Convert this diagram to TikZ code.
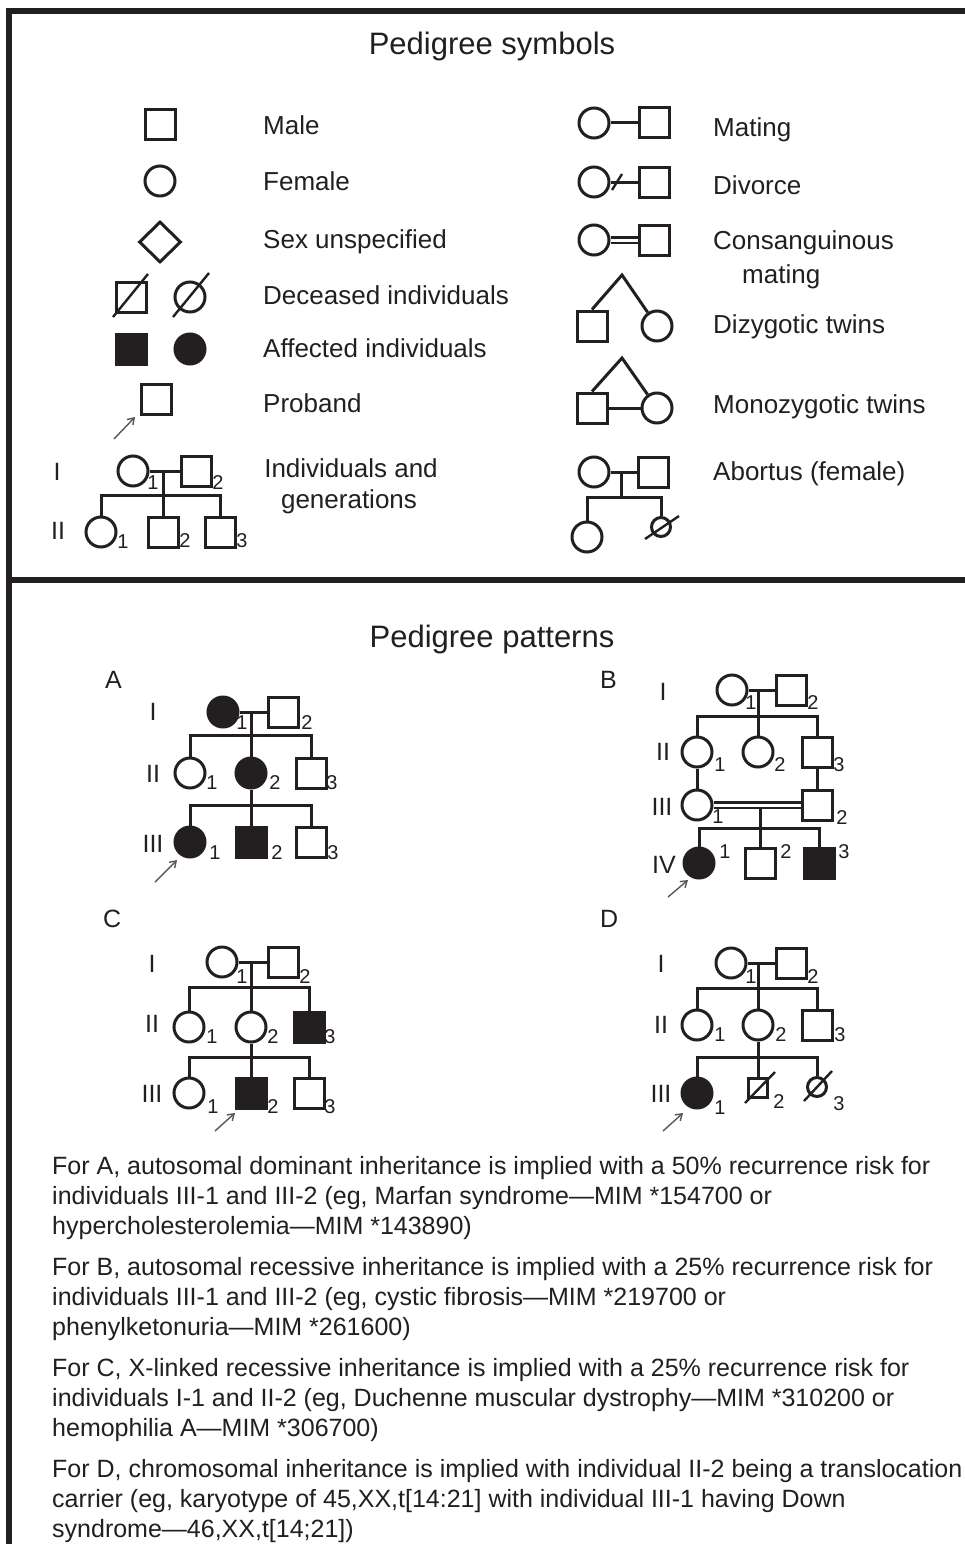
\documentclass[tikz,border=0pt]{standalone}
\usepackage{fontspec}
\setmainfont{Liberation Sans}
\usetikzlibrary{shapes.geometric,arrows.meta,calc}
\definecolor{ink}{HTML}{231F20}

\begin{document}
\begin{tikzpicture}[x=1pt,y=-1pt,
  every node/.style={inner sep=0pt},
  sym/.style={draw=ink, line width=3pt},
  male/.style={sym, rectangle, minimum size=30pt},
  female/.style={sym, circle, minimum size=30pt},
  aff/.style={fill=ink},
  smallsym/.style={minimum size=19pt},
  link/.style={draw=ink, line width=3pt},
  slash/.style={draw=ink, line width=2.4pt},
  consang/.style={draw=ink, line width=2.5pt, double=white, double distance=3pt},
  num/.style={font=\fontsize{20}{20}\selectfont, text=ink},
  gen/.style={font=\fontsize{25}{25}\selectfont, text=ink, anchor=base},
  lbl/.style={font=\fontsize{26}{30}\selectfont, text=ink, anchor=base west},
  ttl/.style={font=\fontsize{31}{36}\selectfont, text=ink, anchor=base},
  note/.style={font=\fontsize{25}{30}\selectfont, text=ink, anchor=base west},
  proband/.style={draw=ink!75, line width=1.4pt, -{Straight Barb[length=6pt,width=8pt]}},
  frame/.style={draw=ink, line width=6pt, line join=miter},
]
\useasboundingbox (0,0) rectangle (965,1544);
\fill[white] (0,0) rectangle (965,1544);

% ---------- frame ----------
\draw[frame] (9,1550) -- (9,11) -- (970,11);
\draw[frame] (9,580) -- (970,580);

% ---------- titles ----------
\node[ttl] (ttlSym) at (492,55) {Pedigree symbols};
\node[ttl] (ttlPat) at (492,647) {Pedigree patterns};

% ---------- symbol key, left column ----------
\node[male] (male) at (160,125) {};
\node[lbl] (maleT) at (263,135) {Male};

\node[female] (fem) at (160,181) {};
\node[lbl] (femT) at (263,190) {Female};

\node[sym, diamond, minimum width=42pt, minimum height=41pt] (unk) at (160,242) {};
\node[lbl] (unkT) at (263,248) {Sex unspecified};

\node[male] (decM) at (131,297) {};
\node[female] (decF) at (190,297) {};
\draw[slash] ([shift={(-18,20)}]decM.center) -- ([shift={(17,-23)}]decM.center);
\draw[slash] ([shift={(-17,20)}]decF.center) -- ([shift={(19,-24)}]decF.center);
\node[lbl] (decT) at (263,304) {Deceased individuals};

\node[male, aff] (affM) at (131,349) {};
\node[female, aff] (affF) at (190,349) {};
\node[lbl] (affT) at (263,357) {Affected individuals};

\node[male] (prob) at (156,399) {};
\coordinate (probS) at (114,439);
\coordinate (probE) at (135,417);
\draw[proband] (probS) -- (probE);
\node[lbl] (probT) at (263,412) {Proband};

% individuals and generations
\node[gen] (gI) at (57,480) {I};
\node[gen] (gII) at (58,539) {II};
\node[female] (g11) at (133,471) {};
\node[male] (g12) at (196,471) {};
\coordinate (gm) at (163,471);
\coordinate (gs) at (163,495);
\node[female] (g21) at (101,532) {};
\node[male] (g22) at (163,532) {};
\node[male] (g23) at (220,532) {};
\draw[link] (g11) -- (g12);
\draw[link] (gm) -- (g22);
\draw[link] (g21) -- (g21 |- gs) -- (g23 |- gs) -- (g23);
\node[num] (g11n) at (153,483) {1};
\node[num] (g12n) at (218,483) {2};
\node[num] (g21n) at (123,542) {1};
\node[num] (g22n) at (185,541) {2};
\node[num] (g23n) at (242,541) {3};
\node[lbl, anchor=base] (igT1) at (351,477) {Individuals and};
\node[lbl, anchor=base] (igT2) at (349,508) {generations};

% ---------- symbol key, right column ----------
\node[female] (mt1) at (594,123) {};
\node[male] (mt2) at (654,123) {};
\draw[link] (mt1) -- (mt2);
\node[lbl] (mtT) at (713,137) {Mating};

\node[female] (dv1) at (594,182) {};
\node[male] (dv2) at (654,182) {};
\draw[link] (dv1) -- (dv2);
\coordinate (dvx) at (617,182);
\draw[slash] ([shift={(-5,8)}]dvx) -- ([shift={(5,-8)}]dvx);
\node[lbl] (dvT) at (713,194) {Divorce};

\node[female] (cs1) at (594,240) {};
\node[male] (cs2) at (654,240) {};
\draw[consang] (cs1) -- (cs2);
\node[lbl] (csT1) at (713,249) {Consanguinous};
\node[lbl] (csT2) at (742,283) {mating};

\coordinate (dzA) at (622,275);
\node[male] (dz1) at (592,326) {};
\node[female] (dz2) at (657,326) {};
\draw[link] (dz1.north) -- (dzA) -- (dz2);
\node[lbl] (dzT) at (713,333) {Dizygotic twins};

\coordinate (mzA) at (622,358);
\node[male] (mz1) at (592,408) {};
\node[female] (mz2) at (657,408) {};
\draw[link] (mz1.north) -- (mzA) -- (mz2);
\draw[link] (mz1) -- (mz2);
\node[lbl] (mzT) at (713,413) {Monozygotic twins};

\node[female] (ab1) at (594,472) {};
\node[male] (ab2) at (653,472) {};
\coordinate (abm) at (621,472);
\coordinate (abs) at (621,497);
\node[female] (ab3) at (587,537) {};
\node[female, smallsym] (ab4) at (661,527) {};
\draw[link] (ab1) -- (ab2);
\draw[link] (abm) -- (abs);
\draw[link] (ab3) -- (ab3 |- abs) -- (ab4 |- abs) -- (ab4);
\draw[slash] ([shift={(-16,12)}]ab4.center) -- ([shift={(18,-11)}]ab4.center);
\node[lbl] (abT) at (713,480) {Abortus (female)};

% ---------- pedigree A ----------
\node[gen, anchor=base west] (labA) at (105,688) {A};
\node[gen] (aI) at (153,720) {I};
\node[gen] (aII) at (153,782) {II};
\node[gen] (aIII) at (153,852) {III};
\node[female, aff] (a11) at (223,712) {};
\node[male] (a12) at (283,712) {};
\coordinate (am1) at (251,712);
\coordinate (as1) at (251,735);
\node[female] (a21) at (190,773) {};
\node[female, aff] (a22) at (251,773) {};
\node[male] (a23) at (311,773) {};
\coordinate (as2) at (251,805);
\node[female, aff] (a31) at (190,842) {};
\node[male, aff] (a32) at (251,842) {};
\node[male] (a33) at (311,842) {};
\draw[link] (a11) -- (a12);
\draw[link] (am1) -- (a22);
\draw[link] (a21) -- (a21 |- as1) -- (a23 |- as1) -- (a23);
\draw[link] (a22) -- (a32);
\draw[link] (a31) -- (a31 |- as2) -- (a33 |- as2) -- (a33);
\node[num] (a11n) at (242,723) {1};
\node[num] (a12n) at (307,723) {2};
\node[num] (a21n) at (212,783) {1};
\node[num] (a22n) at (275,783) {2};
\node[num] (a23n) at (332,783) {3};
\node[num] (a31n) at (215,853) {1};
\node[num] (a32n) at (277,853) {2};
\node[num] (a33n) at (333,853) {3};
\coordinate (apS) at (155,882);
\coordinate (apE) at (177,860);
\draw[proband] (apS) -- (apE);

% ---------- pedigree B ----------
\node[gen, anchor=base west] (labB) at (600,688) {B};
\node[gen] (bI) at (663,700) {I};
\node[gen] (bII) at (663,760) {II};
\node[gen] (bIII) at (662,815) {III};
\node[gen] (bIV) at (664,873) {IV};
\node[female] (b11) at (732,690) {};
\node[male] (b12) at (791,690) {};
\coordinate (bm1) at (758,690);
\coordinate (bs1) at (758,716);
\node[female] (b21) at (697,752) {};
\node[female] (b22) at (758,752) {};
\node[male] (b23) at (817,752) {};
\node[female] (b31) at (697,805) {};
\node[male] (b32) at (817,805) {};
\coordinate (bm2) at (760,809);
\coordinate (bs2) at (760,828);
\node[female, aff] (b41) at (699,863) {};
\node[male] (b42) at (760,863) {};
\node[male, aff] (b43) at (819,863) {};
\draw[link] (b11) -- (b12);
\draw[link] (bm1) -- (b22);
\draw[link] (b21) -- (b21 |- bs1) -- (b23 |- bs1) -- (b23);
\draw[link] (b21) -- (b31);
\draw[link] (b23) -- (b32);
\draw[consang] (b31) -- (b32);
\draw[link] (bm2) -- (b42);
\draw[link] (b41) -- (b41 |- bs2) -- (b43 |- bs2) -- (b43);
\node[num] (b11n) at (751,703) {1};
\node[num] (b12n) at (813,703) {2};
\node[num] (b21n) at (720,765) {1};
\node[num] (b22n) at (780,765) {2};
\node[num] (b23n) at (839,765) {3};
\node[num] (b31n) at (718,817) {1};
\node[num] (b32n) at (842,818) {2};
\node[num] (b41n) at (725,852) {1};
\node[num] (b42n) at (786,852) {2};
\node[num] (b43n) at (844,852) {3};
\coordinate (bpS) at (668,897);
\coordinate (bpE) at (688,880);
\draw[proband] (bpS) -- (bpE);

% ---------- pedigree C ----------
\node[gen, anchor=base west] (labC) at (103,927) {C};
\node[gen] (cI) at (152,972) {I};
\node[gen] (cII) at (152,1032) {II};
\node[gen] (cIII) at (152,1102) {III};
\node[female] (c11) at (222,962) {};
\node[male] (c12) at (283,962) {};
\coordinate (cm1) at (251,962);
\coordinate (cs1) at (251,987);
\node[female] (c21) at (189,1027) {};
\node[female] (c22) at (251,1027) {};
\node[male, aff] (c23) at (309,1027) {};
\coordinate (cs2) at (251,1057);
\node[female] (c31) at (189,1093) {};
\node[male, aff] (c32) at (251,1093) {};
\node[male] (c33) at (309,1093) {};
\draw[link] (c11) -- (c12);
\draw[link] (cm1) -- (c22);
\draw[link] (c21) -- (c21 |- cs1) -- (c23 |- cs1) -- (c23);
\draw[link] (c22) -- (c32);
\draw[link] (c31) -- (c31 |- cs2) -- (c33 |- cs2) -- (c33);
\node[num] (c11n) at (242,977) {1};
\node[num] (c12n) at (305,977) {2};
\node[num] (c21n) at (212,1037) {1};
\node[num] (c22n) at (273,1037) {2};
\node[num] (c23n) at (330,1037) {3};
\node[num] (c31n) at (213,1107) {1};
\node[num] (c32n) at (273,1107) {2};
\node[num] (c33n) at (330,1107) {3};
\coordinate (cpS) at (215,1131);
\coordinate (cpE) at (235,1113);
\draw[proband] (cpS) -- (cpE);

% ---------- pedigree D ----------
\node[gen, anchor=base west] (labD) at (600,927) {D};
\node[gen] (dI) at (661,972) {I};
\node[gen] (dII) at (661,1033) {II};
\node[gen] (dIII) at (661,1102) {III};
\node[female] (d11) at (731,963) {};
\node[male] (d12) at (791,963) {};
\coordinate (dm1) at (758,963);
\coordinate (ds1) at (758,988);
\node[female] (d21) at (697,1025) {};
\node[female] (d22) at (758,1025) {};
\node[male] (d23) at (817,1025) {};
\coordinate (ds2) at (758,1057);
\node[female, aff] (d31) at (697,1093) {};
\node[male, smallsym] (d32) at (758,1088) {};
\node[female, smallsym] (d33) at (817,1087) {};
\draw[link] (d11) -- (d12);
\draw[link] (dm1) -- (d22);
\draw[link] (d21) -- (d21 |- ds1) -- (d23 |- ds1) -- (d23);
\draw[link] (d22) -- (d32);
\draw[link] (d31) -- (d31 |- ds2) -- (d33 |- ds2) -- (d33);
\draw[slash] ([shift={(-13,15)}]d32.center) -- ([shift={(17,-16)}]d32.center);
\draw[slash] ([shift={(-13,14)}]d33.center) -- ([shift={(15,-16)}]d33.center);
\node[num] (d11n) at (751,977) {1};
\node[num] (d12n) at (813,977) {2};
\node[num] (d21n) at (720,1035) {1};
\node[num] (d22n) at (781,1035) {2};
\node[num] (d23n) at (840,1035) {3};
\node[num] (d31n) at (720,1108) {1};
\node[num] (d32n) at (779,1102) {2};
\node[num] (d33n) at (839,1104) {3};
\coordinate (dpS) at (663,1131);
\coordinate (dpE) at (683,1113);
\draw[proband] (dpS) -- (dpE);

% ---------- explanatory notes ----------
\node[note] (nA1) at (52,1174) {For A, autosomal dominant inheritance is implied with a 50\% recurrence risk for};
\node[note] (nA2) at (52,1204) {individuals III-1 and III-2 (eg, Marfan syndrome—MIM *154700 or};
\node[note] (nA3) at (52,1234) {hypercholesterolemia—MIM *143890)};
\node[note] (nB1) at (52,1275) {For B, autosomal recessive inheritance is implied with a 25\% recurrence risk for};
\node[note] (nB2) at (52,1305) {individuals III-1 and III-2 (eg, cystic fibrosis—MIM *219700 or};
\node[note] (nB3) at (52,1335) {phenylketonuria—MIM *261600)};
\node[note] (nC1) at (52,1376) {For C, X-linked recessive inheritance is implied with a 25\% recurrence risk for};
\node[note] (nC2) at (52,1406) {individuals I-1 and II-2 (eg, Duchenne muscular dystrophy—MIM *310200 or};
\node[note] (nC3) at (52,1436) {hemophilia A—MIM *306700)};
\node[note] (nD1) at (52,1477) {For D, chromosomal inheritance is implied with individual II-2 being a translocation};
\node[note] (nD2) at (52,1507) {carrier (eg, karyotype of 45,XX,t[14:21] with individual III-1 having Down};
\node[note] (nD3) at (52,1537) {syndrome—46,XX,t[14;21])};
\end{tikzpicture}
\end{document}
